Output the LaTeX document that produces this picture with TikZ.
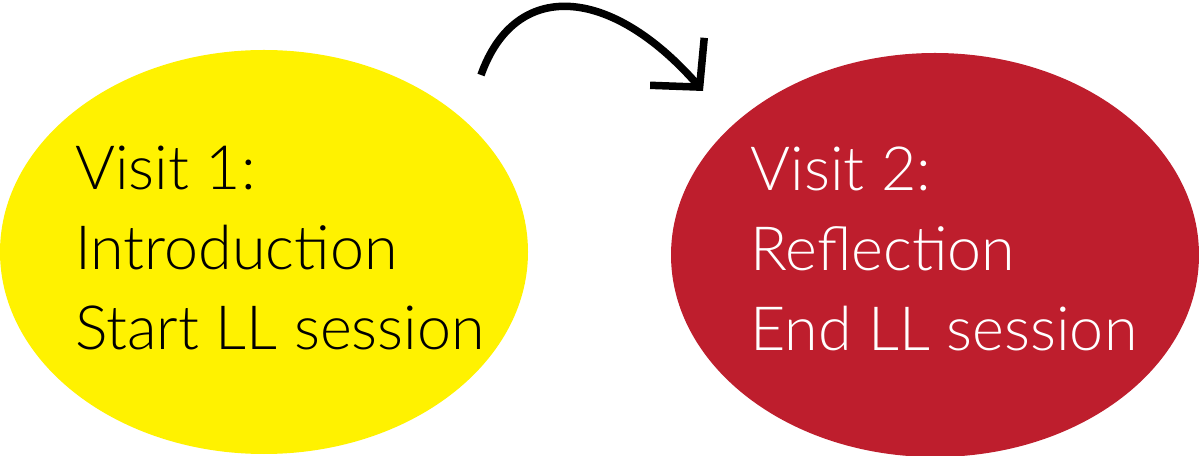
\documentclass[tikz,border=0pt]{standalone}
\usepackage{fontspec}
\setmainfont{Lato}[UprightFont=* Light]
\usetikzlibrary{shapes.geometric,arrows.meta}
\definecolor{visityellow}{RGB}{255,242,0}
\definecolor{visitred}{RGB}{190,30,45}

\begin{document}
\begin{tikzpicture}[x=1pt, y=1pt]
    % Define styles
    \tikzstyle{visit} = [ellipse, minimum width=528pt, minimum height=404pt, inner sep=0pt]
    \tikzstyle{visittext} = [align=left, inner sep=0pt, font=\fontsize{61}{80}\selectfont]
    \tikzstyle{arrow} = [line width=7.5pt, -{Straight Barb[length=34pt, width=72pt]}]
    \useasboundingbox (0,0) rectangle (1199,455);

    % Ellipses side by side
    \node [visit, fill=visityellow] (visitone) at (264,203) {};
    \node [visit, fill=visitred] (visittwo) at (935,200) {};

    % Texts inside
    \node [visittext, text=black] (textone) at ([xshift=16pt, yshift=4pt]visitone.center) {Visit 1:\\Introduction\\Start LL session};
    \node [visittext, text=white] (texttwo) at ([xshift=9pt, yshift=6pt]visittwo.center) {Visit 2:\\Reflection\\End LL session};

    % Arrow over the gap
    \coordinate (arrowstart) at (481,380);
    \coordinate (arrowend) at (703,364);
    \draw [arrow] (arrowstart) .. controls (515,476) and (610,470) .. (arrowend);
\end{tikzpicture}
\end{document}
